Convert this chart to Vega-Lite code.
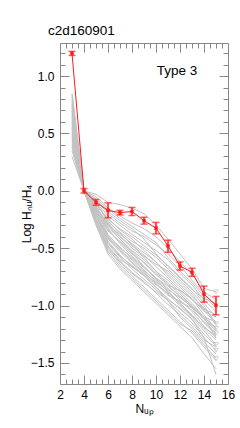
{
"$schema":"https://vega.github.io/schema/vega-lite/v6.json",
"width":168,"height":341,
"autosize":"none",
"padding":{"left":60,"top":43,"right":12,"bottom":44},
"background":"white",
"title":{"text":"c2d160901","anchor":"start","frame":"group","dx":-12,"offset":5,"fontSize":13.5,"font":"Liberation Sans","fontWeight":"normal","color":"black"},
"config":{"view":{"stroke":null},"axis":{"grid":false,"domainColor":"#888888","tickColor":"#888888","labelFont":"Liberation Sans","labelFontSize":12,"labelColor":"black","titleFont":"Liberation Sans","titleFontSize":12,"titleFontWeight":"normal","titleColor":"black","labelOverlap":false,"labelFlush":false,"labelBound":false,"domainWidth":1,"tickWidth":1}},
"datasets":{
"gray":[
{"s":1,"x":3,"y":0.55},{"s":1,"x":4,"y":0},{"s":1,"x":5,"y":-0.03},{"s":1,"x":6,"y":-0.10},{"s":1,"x":7,"y":-0.12},{"s":1,"x":8,"y":-0.15},{"s":1,"x":9,"y":-0.20},{"s":1,"x":10,"y":-0.30},{"s":1,"x":11,"y":-0.42},{"s":1,"x":12,"y":-0.55},{"s":1,"x":13,"y":-0.68},{"s":1,"x":14,"y":-0.85},{"s":1,"x":15,"y":-0.88},
{"s":2,"x":3,"y":0.80},{"s":2,"x":4,"y":0},{"s":2,"x":5,"y":-0.05},{"s":2,"x":6,"y":-0.15},{"s":2,"x":7,"y":-0.22},{"s":2,"x":8,"y":-0.28},{"s":2,"x":9,"y":-0.33},{"s":2,"x":10,"y":-0.40},{"s":2,"x":11,"y":-0.50},{"s":2,"x":12,"y":-0.62},{"s":2,"x":13,"y":-0.72},{"s":2,"x":14,"y":-0.88},{"s":2,"x":15,"y":-0.95},
{"s":3,"x":3,"y":0.70},{"s":3,"x":4,"y":0},{"s":3,"x":5,"y":-0.08},{"s":3,"x":6,"y":-0.20},{"s":3,"x":7,"y":-0.28},{"s":3,"x":8,"y":-0.35},{"s":3,"x":9,"y":-0.40},{"s":3,"x":10,"y":-0.47},{"s":3,"x":11,"y":-0.55},{"s":3,"x":12,"y":-0.65},{"s":3,"x":13,"y":-0.78},{"s":3,"x":14,"y":-0.90},{"s":3,"x":15,"y":-1.00},
{"s":4,"x":3,"y":0.85},{"s":4,"x":4,"y":0},{"s":4,"x":5,"y":-0.10},{"s":4,"x":6,"y":-0.22},{"s":4,"x":7,"y":-0.30},{"s":4,"x":8,"y":-0.38},{"s":4,"x":9,"y":-0.45},{"s":4,"x":10,"y":-0.52},{"s":4,"x":11,"y":-0.60},{"s":4,"x":12,"y":-0.72},{"s":4,"x":13,"y":-0.82},{"s":4,"x":14,"y":-0.95},{"s":4,"x":15,"y":-1.05},
{"s":5,"x":3,"y":0.60},{"s":5,"x":4,"y":0},{"s":5,"x":5,"y":-0.12},{"s":5,"x":6,"y":-0.25},{"s":5,"x":7,"y":-0.33},{"s":5,"x":8,"y":-0.40},{"s":5,"x":9,"y":-0.48},{"s":5,"x":10,"y":-0.56},{"s":5,"x":11,"y":-0.65},{"s":5,"x":12,"y":-0.75},{"s":5,"x":13,"y":-0.85},{"s":5,"x":14,"y":-0.98},{"s":5,"x":15,"y":-1.10},
{"s":6,"x":3,"y":0.75},{"s":6,"x":4,"y":0},{"s":6,"x":5,"y":-0.10},{"s":6,"x":6,"y":-0.27},{"s":6,"x":7,"y":-0.36},{"s":6,"x":8,"y":-0.44},{"s":6,"x":9,"y":-0.50},{"s":6,"x":10,"y":-0.58},{"s":6,"x":11,"y":-0.68},{"s":6,"x":12,"y":-0.78},{"s":6,"x":13,"y":-0.88},{"s":6,"x":14,"y":-1.00},{"s":6,"x":15,"y":-1.16},
{"s":7,"x":3,"y":0.65},{"s":7,"x":4,"y":0},{"s":7,"x":5,"y":-0.13},{"s":7,"x":6,"y":-0.30},{"s":7,"x":7,"y":-0.38},{"s":7,"x":8,"y":-0.46},{"s":7,"x":9,"y":-0.54},{"s":7,"x":10,"y":-0.62},{"s":7,"x":11,"y":-0.72},{"s":7,"x":12,"y":-0.82},{"s":7,"x":13,"y":-0.92},{"s":7,"x":14,"y":-1.02},{"s":7,"x":15,"y":-1.15},
{"s":8,"x":3,"y":0.50},{"s":8,"x":4,"y":0},{"s":8,"x":5,"y":-0.15},{"s":8,"x":6,"y":-0.28},{"s":8,"x":7,"y":-0.40},{"s":8,"x":8,"y":-0.50},{"s":8,"x":9,"y":-0.58},{"s":8,"x":10,"y":-0.70},{"s":8,"x":11,"y":-0.82},{"s":8,"x":12,"y":-0.92},{"s":8,"x":13,"y":-1.00},{"s":8,"x":14,"y":-1.10},{"s":8,"x":15,"y":-1.28},
{"s":9,"x":3,"y":0.72},{"s":9,"x":4,"y":0},{"s":9,"x":5,"y":-0.14},{"s":9,"x":6,"y":-0.32},{"s":9,"x":7,"y":-0.42},{"s":9,"x":8,"y":-0.52},{"s":9,"x":9,"y":-0.60},{"s":9,"x":10,"y":-0.70},{"s":9,"x":11,"y":-0.78},{"s":9,"x":12,"y":-0.88},{"s":9,"x":13,"y":-0.98},{"s":9,"x":14,"y":-1.10},{"s":9,"x":15,"y":-1.20},
{"s":10,"x":3,"y":0.78},{"s":10,"x":4,"y":0},{"s":10,"x":5,"y":-0.16},{"s":10,"x":6,"y":-0.34},{"s":10,"x":7,"y":-0.45},{"s":10,"x":8,"y":-0.55},{"s":10,"x":9,"y":-0.62},{"s":10,"x":10,"y":-0.72},{"s":10,"x":11,"y":-0.80},{"s":10,"x":12,"y":-0.90},{"s":10,"x":13,"y":-1.00},{"s":10,"x":14,"y":-1.12},{"s":10,"x":15,"y":-1.22},
{"s":11,"x":3,"y":0.45},{"s":11,"x":4,"y":0},{"s":11,"x":5,"y":-0.18},{"s":11,"x":6,"y":-0.30},{"s":11,"x":7,"y":-0.42},{"s":11,"x":8,"y":-0.54},{"s":11,"x":9,"y":-0.66},{"s":11,"x":10,"y":-0.76},{"s":11,"x":11,"y":-0.83},{"s":11,"x":12,"y":-0.92},{"s":11,"x":13,"y":-1.02},{"s":11,"x":14,"y":-1.15},{"s":11,"x":15,"y":-1.25},
{"s":12,"x":3,"y":0.68},{"s":12,"x":4,"y":0},{"s":12,"x":5,"y":-0.17},{"s":12,"x":6,"y":-0.38},{"s":12,"x":7,"y":-0.50},{"s":12,"x":8,"y":-0.58},{"s":12,"x":9,"y":-0.67},{"s":12,"x":10,"y":-0.76},{"s":12,"x":11,"y":-0.85},{"s":12,"x":12,"y":-0.95},{"s":12,"x":13,"y":-1.05},{"s":12,"x":14,"y":-1.18},{"s":12,"x":15,"y":-1.28},
{"s":13,"x":3,"y":0.58},{"s":13,"x":4,"y":0},{"s":13,"x":5,"y":-0.20},{"s":13,"x":6,"y":-0.40},{"s":13,"x":7,"y":-0.52},{"s":13,"x":8,"y":-0.60},{"s":13,"x":9,"y":-0.70},{"s":13,"x":10,"y":-0.78},{"s":13,"x":11,"y":-0.88},{"s":13,"x":12,"y":-0.98},{"s":13,"x":13,"y":-1.08},{"s":13,"x":14,"y":-1.20},{"s":13,"x":15,"y":-1.30},
{"s":14,"x":3,"y":0.82},{"s":14,"x":4,"y":0},{"s":14,"x":5,"y":-0.19},{"s":14,"x":6,"y":-0.42},{"s":14,"x":7,"y":-0.53},{"s":14,"x":8,"y":-0.63},{"s":14,"x":9,"y":-0.72},{"s":14,"x":10,"y":-0.80},{"s":14,"x":11,"y":-0.90},{"s":14,"x":12,"y":-1.00},{"s":14,"x":13,"y":-1.10},{"s":14,"x":14,"y":-1.22},{"s":14,"x":15,"y":-1.34},
{"s":15,"x":3,"y":0.40},{"s":15,"x":4,"y":0},{"s":15,"x":5,"y":-0.22},{"s":15,"x":6,"y":-0.44},{"s":15,"x":7,"y":-0.56},{"s":15,"x":8,"y":-0.66},{"s":15,"x":9,"y":-0.74},{"s":15,"x":10,"y":-0.84},{"s":15,"x":11,"y":-0.94},{"s":15,"x":12,"y":-1.03},{"s":15,"x":13,"y":-1.12},{"s":15,"x":14,"y":-1.25},{"s":15,"x":15,"y":-1.35},
{"s":16,"x":3,"y":0.62},{"s":16,"x":4,"y":0},{"s":16,"x":5,"y":-0.24},{"s":16,"x":6,"y":-0.46},{"s":16,"x":7,"y":-0.58},{"s":16,"x":8,"y":-0.68},{"s":16,"x":9,"y":-0.77},{"s":16,"x":10,"y":-0.86},{"s":16,"x":11,"y":-0.96},{"s":16,"x":12,"y":-1.06},{"s":16,"x":13,"y":-1.15},{"s":16,"x":14,"y":-1.28},{"s":16,"x":15,"y":-1.39},
{"s":17,"x":3,"y":0.35},{"s":17,"x":4,"y":0},{"s":17,"x":5,"y":-0.25},{"s":17,"x":6,"y":-0.48},{"s":17,"x":7,"y":-0.60},{"s":17,"x":8,"y":-0.66},{"s":17,"x":9,"y":-0.74},{"s":17,"x":10,"y":-0.84},{"s":17,"x":11,"y":-0.96},{"s":17,"x":12,"y":-1.10},{"s":17,"x":13,"y":-1.20},{"s":17,"x":14,"y":-1.32},{"s":17,"x":15,"y":-1.42},
{"s":18,"x":3,"y":0.52},{"s":18,"x":4,"y":0},{"s":18,"x":5,"y":-0.28},{"s":18,"x":6,"y":-0.50},{"s":18,"x":7,"y":-0.64},{"s":18,"x":8,"y":-0.74},{"s":18,"x":9,"y":-0.84},{"s":18,"x":10,"y":-0.94},{"s":18,"x":11,"y":-1.04},{"s":18,"x":12,"y":-1.14},{"s":18,"x":13,"y":-1.24},{"s":18,"x":14,"y":-1.36},{"s":18,"x":15,"y":-1.48},
{"s":19,"x":3,"y":0.30},{"s":19,"x":4,"y":0},{"s":19,"x":5,"y":-0.30},{"s":19,"x":6,"y":-0.55},{"s":19,"x":7,"y":-0.68},{"s":19,"x":8,"y":-0.78},{"s":19,"x":9,"y":-0.88},{"s":19,"x":10,"y":-0.98},{"s":19,"x":11,"y":-1.08},{"s":19,"x":12,"y":-1.18},{"s":19,"x":13,"y":-1.28},{"s":19,"x":14,"y":-1.42},{"s":19,"x":15,"y":-1.55},
{"s":20,"x":3,"y":0.48},{"s":20,"x":4,"y":0},{"s":20,"x":5,"y":-0.26},{"s":20,"x":6,"y":-0.52},{"s":20,"x":7,"y":-0.62},{"s":20,"x":8,"y":-0.72},{"s":20,"x":9,"y":-0.80},{"s":20,"x":10,"y":-0.88},{"s":20,"x":11,"y":-0.95},{"s":20,"x":12,"y":-1.02},{"s":20,"x":13,"y":-1.12},{"s":20,"x":14,"y":-1.28},{"s":20,"x":15,"y":-1.60},
{"s":21,"x":3,"y":0.76},{"s":21,"x":4,"y":0},{"s":21,"x":5,"y":-0.08},{"s":21,"x":6,"y":-0.18},{"s":21,"x":7,"y":-0.26},{"s":21,"x":8,"y":-0.33},{"s":21,"x":9,"y":-0.42},{"s":21,"x":10,"y":-0.55},{"s":21,"x":11,"y":-0.66},{"s":21,"x":12,"y":-0.76},{"s":21,"x":13,"y":-0.86},{"s":21,"x":14,"y":-0.94},{"s":21,"x":15,"y":-0.98},
{"s":22,"x":3,"y":0.66},{"s":22,"x":4,"y":0},{"s":22,"x":5,"y":-0.12},{"s":22,"x":6,"y":-0.24},{"s":22,"x":7,"y":-0.34},{"s":22,"x":8,"y":-0.42},{"s":22,"x":9,"y":-0.52},{"s":22,"x":10,"y":-0.62},{"s":22,"x":11,"y":-0.74},{"s":22,"x":12,"y":-0.84},{"s":22,"x":13,"y":-0.94},{"s":22,"x":14,"y":-1.05},{"s":22,"x":15,"y":-1.10},
{"s":23,"x":3,"y":0.56},{"s":23,"x":4,"y":0},{"s":23,"x":5,"y":-0.14},{"s":23,"x":6,"y":-0.29},{"s":23,"x":7,"y":-0.40},{"s":23,"x":8,"y":-0.48},{"s":23,"x":9,"y":-0.57},{"s":23,"x":10,"y":-0.64},{"s":23,"x":11,"y":-0.70},{"s":23,"x":12,"y":-0.80},{"s":23,"x":13,"y":-0.90},{"s":23,"x":14,"y":-1.04},{"s":23,"x":15,"y":-1.16},
{"s":24,"x":3,"y":0.74},{"s":24,"x":4,"y":0},{"s":24,"x":5,"y":-0.18},{"s":24,"x":6,"y":-0.35},{"s":24,"x":7,"y":-0.44},{"s":24,"x":8,"y":-0.53},{"s":24,"x":9,"y":-0.63},{"s":24,"x":10,"y":-0.73},{"s":24,"x":11,"y":-0.82},{"s":24,"x":12,"y":-0.87},{"s":24,"x":13,"y":-0.94},{"s":24,"x":14,"y":-1.08},{"s":24,"x":15,"y":-1.20},
{"s":25,"x":3,"y":0.64},{"s":25,"x":4,"y":0},{"s":25,"x":5,"y":-0.22},{"s":25,"x":6,"y":-0.41},{"s":25,"x":7,"y":-0.51},{"s":25,"x":8,"y":-0.62},{"s":25,"x":9,"y":-0.71},{"s":25,"x":10,"y":-0.81},{"s":25,"x":11,"y":-0.91},{"s":25,"x":12,"y":-0.96},{"s":25,"x":13,"y":-1.04},{"s":25,"x":14,"y":-1.14},{"s":25,"x":15,"y":-1.24},
{"s":26,"x":3,"y":0.42},{"s":26,"x":4,"y":0},{"s":26,"x":5,"y":-0.21},{"s":26,"x":6,"y":-0.45},{"s":26,"x":7,"y":-0.57},{"s":26,"x":8,"y":-0.65},{"s":26,"x":9,"y":-0.73},{"s":26,"x":10,"y":-0.82},{"s":26,"x":11,"y":-0.89},{"s":26,"x":12,"y":-0.97},{"s":26,"x":13,"y":-1.02},{"s":26,"x":14,"y":-1.10},{"s":26,"x":15,"y":-1.14},
{"s":27,"x":3,"y":0.84},{"s":27,"x":4,"y":0},{"s":27,"x":5,"y":-0.11},{"s":27,"x":6,"y":-0.26},{"s":27,"x":7,"y":-0.37},{"s":27,"x":8,"y":-0.47},{"s":27,"x":9,"y":-0.56},{"s":27,"x":10,"y":-0.66},{"s":27,"x":11,"y":-0.76},{"s":27,"x":12,"y":-0.86},{"s":27,"x":13,"y":-0.95},{"s":27,"x":14,"y":-1.03},{"s":27,"x":15,"y":-1.08},
{"s":28,"x":3,"y":0.54},{"s":28,"x":4,"y":0},{"s":28,"x":5,"y":-0.16},{"s":28,"x":6,"y":-0.33},{"s":28,"x":7,"y":-0.46},{"s":28,"x":8,"y":-0.57},{"s":28,"x":9,"y":-0.66},{"s":28,"x":10,"y":-0.77},{"s":28,"x":11,"y":-0.86},{"s":28,"x":12,"y":-0.93},{"s":28,"x":13,"y":-1.01},{"s":28,"x":14,"y":-1.12},{"s":28,"x":15,"y":-1.20},
{"s":29,"x":3,"y":0.70},{"s":29,"x":4,"y":0},{"s":29,"x":5,"y":-0.20},{"s":29,"x":6,"y":-0.39},{"s":29,"x":7,"y":-0.49},{"s":29,"x":8,"y":-0.59},{"s":29,"x":9,"y":-0.69},{"s":29,"x":10,"y":-0.79},{"s":29,"x":11,"y":-0.87},{"s":29,"x":12,"y":-0.99},{"s":29,"x":13,"y":-1.09},{"s":29,"x":14,"y":-1.19},{"s":29,"x":15,"y":-1.26},
{"s":30,"x":3,"y":0.46},{"s":30,"x":4,"y":0},{"s":30,"x":5,"y":-0.27},{"s":30,"x":6,"y":-0.49},{"s":30,"x":7,"y":-0.61},{"s":30,"x":8,"y":-0.71},{"s":30,"x":9,"y":-0.79},{"s":30,"x":10,"y":-0.89},{"s":30,"x":11,"y":-0.99},{"s":30,"x":12,"y":-1.08},{"s":30,"x":13,"y":-1.18},{"s":30,"x":14,"y":-1.30},{"s":30,"x":15,"y":-1.36},
{"s":31,"x":3,"y":0.60},{"s":31,"x":4,"y":0},{"s":31,"x":5,"y":-0.07},{"s":31,"x":6,"y":-0.16},{"s":31,"x":7,"y":-0.24},{"s":31,"x":8,"y":-0.31},{"s":31,"x":9,"y":-0.38},{"s":31,"x":10,"y":-0.45},{"s":31,"x":11,"y":-0.58},{"s":31,"x":12,"y":-0.70},{"s":31,"x":13,"y":-0.80},{"s":31,"x":14,"y":-0.92},{"s":31,"x":15,"y":-1.02},
{"s":32,"x":3,"y":0.38},{"s":32,"x":4,"y":0},{"s":32,"x":5,"y":-0.29},{"s":32,"x":6,"y":-0.53},{"s":32,"x":7,"y":-0.66},{"s":32,"x":8,"y":-0.76},{"s":32,"x":9,"y":-0.86},{"s":32,"x":10,"y":-0.96},{"s":32,"x":11,"y":-1.06},{"s":32,"x":12,"y":-1.16},{"s":32,"x":13,"y":-1.22},{"s":32,"x":14,"y":-1.34},{"s":32,"x":15,"y":-1.46}
],
"lims":[{"x":15,"y":-0.88},{"x":15,"y":-1.16},{"x":15,"y":-1.20},{"x":15,"y":-1.24},{"x":15,"y":-1.34},{"x":15,"y":-1.39},{"x":15,"y":-1.46}],
"red":[
{"x":3,"y":1.198,"lo":1.18,"hi":1.215},
{"x":4,"y":0.0,"lo":-0.02,"hi":0.02},
{"x":5,"y":-0.10,"lo":-0.125,"hi":-0.075},
{"x":6,"y":-0.17,"lo":-0.235,"hi":-0.105},
{"x":7,"y":-0.19,"lo":-0.21,"hi":-0.17},
{"x":8,"y":-0.18,"lo":-0.215,"hi":-0.145},
{"x":9,"y":-0.26,"lo":-0.29,"hi":-0.23},
{"x":10,"y":-0.325,"lo":-0.375,"hi":-0.275},
{"x":11,"y":-0.48,"lo":-0.535,"hi":-0.43},
{"x":12,"y":-0.655,"lo":-0.69,"hi":-0.62},
{"x":13,"y":-0.71,"lo":-0.745,"hi":-0.675},
{"x":14,"y":-0.90,"lo":-0.97,"hi":-0.83},
{"x":15,"y":-0.997,"lo":-1.08,"hi":-0.92}
]
},
"resolve":{"axis":{"x":"independent","y":"independent"}},
"layer":[
{"data":{"name":"gray"},"mark":{"type":"line","color":"#c2c2c2","strokeWidth":1},
"encoding":{
"x":{"field":"x","type":"quantitative","scale":{"domain":[2,16],"nice":false,"zero":false},"axis":{"orient":"bottom","values":[2,4,6,8,10,12,14,16],"ticks":false,"domain":true,"labelPadding":5,"title":"Nᵤₚ","titlePadding":3}},
"y":{"field":"y","type":"quantitative","scale":{"domain":[-1.683,1.288],"nice":false,"zero":false},"axis":{"orient":"left","values":[-1.5,-1,-0.5,0,0.5,1],"format":".1f","ticks":false,"domain":true,"labelPadding":6,"title":"Log Hₙᵤ/H₄","titlePadding":-3}},
"detail":{"field":"s","type":"nominal"}}},
{"data":{"name":"lims"},"mark":{"type":"point","shape":"triangle-down","size":22,"color":"#c2c2c2","filled":false,"strokeWidth":1},
"encoding":{
"x":{"field":"x","type":"quantitative","scale":{"domain":[2,16],"nice":false,"zero":false},"axis":{"orient":"bottom","values":[2,4,6,8,10,12,14,16],"labels":false,"tickSize":-9,"domain":false,"title":null}},
"y":{"field":"y","type":"quantitative","scale":{"domain":[-1.683,1.288],"nice":false,"zero":false},"axis":{"orient":"left","values":[-1.5,-1,-0.5,0,0.5,1],"labels":false,"tickSize":-9,"domain":false,"title":null}}}},
{"data":{"name":"red"},"mark":{"type":"line","color":"#ff1a1a","strokeWidth":1},
"encoding":{
"x":{"field":"x","type":"quantitative","scale":{"domain":[2,16],"nice":false,"zero":false},"axis":{"orient":"bottom","values":[2.5,3,3.5,4.5,5,5.5,6.5,7,7.5,8.5,9,9.5,10.5,11,11.5,12.5,13,13.5,14.5,15,15.5],"labels":false,"tickSize":-5,"domain":false,"title":null}},
"y":{"field":"y","type":"quantitative","scale":{"domain":[-1.683,1.288],"nice":false,"zero":false},"axis":{"orient":"left","values":[-1.6,-1.4,-1.3,-1.2,-1.1,-0.9,-0.8,-0.7,-0.6,-0.4,-0.3,-0.2,-0.1,0.1,0.2,0.3,0.4,0.6,0.7,0.8,0.9,1.1,1.2],"labels":false,"tickSize":-5,"domain":false,"title":null}}}},
{"data":{"name":"red"},"mark":{"type":"rule","color":"#ff1a1a","strokeWidth":1.5},
"encoding":{
"x":{"field":"x","type":"quantitative","scale":{"domain":[2,16],"nice":false,"zero":false},"axis":{"orient":"top","values":[2,4,6,8,10,12,14,16],"labels":false,"tickSize":-9,"domain":true,"title":null}},
"y":{"field":"lo","type":"quantitative","scale":{"domain":[-1.683,1.288],"nice":false,"zero":false},"axis":{"orient":"right","values":[-1.5,-1,-0.5,0,0.5,1],"labels":false,"tickSize":-9,"domain":true,"title":null}},
"y2":{"field":"hi"}}},
{"data":{"name":"red"},"mark":{"type":"tick","orient":"horizontal","color":"#ff1a1a","size":7,"thickness":1.5},
"encoding":{
"x":{"field":"x","type":"quantitative","scale":{"domain":[2,16],"nice":false,"zero":false},"axis":{"orient":"top","values":[2.5,3,3.5,4.5,5,5.5,6.5,7,7.5,8.5,9,9.5,10.5,11,11.5,12.5,13,13.5,14.5,15,15.5],"labels":false,"tickSize":-5,"domain":false,"title":null}},
"y":{"field":"lo","type":"quantitative","scale":{"domain":[-1.683,1.288],"nice":false,"zero":false},"axis":{"orient":"right","values":[-1.6,-1.4,-1.3,-1.2,-1.1,-0.9,-0.8,-0.7,-0.6,-0.4,-0.3,-0.2,-0.1,0.1,0.2,0.3,0.4,0.6,0.7,0.8,0.9,1.1,1.2],"labels":false,"tickSize":-5,"domain":false,"title":null}}}},
{"data":{"name":"red"},"mark":{"type":"tick","orient":"horizontal","color":"#ff1a1a","size":7,"thickness":1.5},
"encoding":{
"x":{"field":"x","type":"quantitative","scale":{"domain":[2,16],"nice":false,"zero":false},"axis":null},
"y":{"field":"hi","type":"quantitative","scale":{"domain":[-1.683,1.288],"nice":false,"zero":false},"axis":null}}},
{"data":{"name":"red"},"mark":{"type":"point","shape":"square","filled":true,"size":12,"color":"#ff1a1a","opacity":1},
"encoding":{
"x":{"field":"x","type":"quantitative","scale":{"domain":[2,16],"nice":false,"zero":false},"axis":null},
"y":{"field":"y","type":"quantitative","scale":{"domain":[-1.683,1.288],"nice":false,"zero":false},"axis":null}}},
{"data":{"values":[{"x":11.75,"y":1.04,"t":"Type 3"}]},"mark":{"type":"text","font":"Liberation Sans","fontSize":13.5,"color":"black","align":"center","baseline":"middle"},
"encoding":{
"x":{"field":"x","type":"quantitative","scale":{"domain":[2,16],"nice":false,"zero":false},"axis":null},
"y":{"field":"y","type":"quantitative","scale":{"domain":[-1.683,1.288],"nice":false,"zero":false},"axis":null},
"text":{"field":"t"}}}
]
}
